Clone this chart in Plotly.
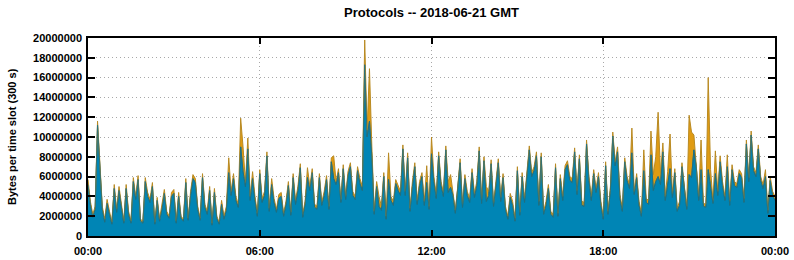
import plotly.graph_objects as go
import pandas as pd

# Stacked traffic per 5-minute slot, in millions of bytes
blue_mb = [
    5.2, 3.2, 1.9, 2.7, 11.2, 7.1, 2.7, 1.4, 3.3, 2.2, 1.2, 4.8, 2.4, 4.6, 2.7, 1.3,
    4.8, 2.2, 1.3, 5.5, 3.7, 5.7, 1.5, 1.3, 5.5, 4.0, 3.4, 5.0, 1.2, 3.6, 1.5, 2.7,
    4.3, 2.2, 1.8, 4.0, 4.3, 1.3, 4.0, 1.8, 1.5, 5.4, 1.6, 4.1, 5.8, 5.4, 2.7, 1.6,
    5.9, 2.9, 2.2, 4.6, 1.1, 4.4, 1.8, 1.2, 3.2, 1.7, 2.6, 6.4, 4.1, 5.8, 3.6, 2.9,
    9.0, 6.5, 5.0, 8.8, 3.6, 5.8, 3.6, 2.0, 6.3, 3.4, 4.1, 8.1, 2.5, 5.2, 3.4, 2.4,
    3.8, 4.0, 2.0, 3.2, 5.1, 2.1, 5.9, 3.2, 4.6, 6.9, 1.9, 3.2, 5.9, 4.6, 6.4, 2.9,
    2.7, 5.9, 3.1, 4.1, 5.7, 2.7, 7.5, 5.8, 5.2, 6.4, 3.4, 6.8, 3.7, 6.1, 7.0, 4.1,
    3.7, 6.6, 5.3, 4.6, 17.3, 10.0, 11.6, 8.0, 2.2, 5.0, 3.0, 2.6, 6.0, 1.7, 5.7, 3.6,
    3.1, 5.3, 4.6, 4.1, 8.8, 4.1, 7.9, 2.5, 5.0, 7.0, 3.2, 5.1, 6.0, 3.1, 5.4, 2.7,
    8.3, 5.5, 3.8, 8.1, 5.1, 4.0, 8.7, 4.4, 4.9, 4.1, 2.3, 4.6, 7.4, 2.9, 5.8, 4.1,
    3.4, 6.4, 3.9, 5.1, 8.6, 3.3, 7.6, 3.5, 4.1, 7.3, 3.0, 5.1, 7.4, 3.5, 5.9, 2.7,
    1.7, 3.9, 3.1, 1.5, 6.6, 2.1, 6.0, 3.4, 6.1, 8.7, 6.0, 6.6, 8.1, 3.1, 8.0, 2.2,
    3.1, 4.8, 2.2, 1.9, 6.9, 2.0, 5.8, 3.6, 6.7, 7.2, 5.6, 5.4, 8.5, 4.2, 7.8, 3.1,
    3.0, 9.3, 5.6, 3.6, 6.3, 4.4, 6.0, 3.1, 1.7, 7.1, 2.2, 4.6, 10.1, 7.1, 8.5, 3.8,
    2.5, 7.5, 5.6, 4.8, 8.4, 4.2, 5.9, 3.1, 2.0, 6.6, 3.4, 3.2, 8.2, 4.6, 5.5, 6.0,
    5.2, 8.5, 3.6, 5.5, 6.8, 3.9, 6.4, 2.5, 3.1, 7.0, 4.6, 2.7, 6.2, 5.9, 8.7, 7.0,
    3.6, 6.7, 3.0, 2.9, 6.7, 4.7, 3.3, 6.3, 4.1, 7.5, 5.1, 3.6, 7.0, 3.1, 6.7, 5.1,
    4.9, 6.3, 5.9, 3.4, 9.3, 5.5, 10.2, 6.6, 6.0, 8.8, 5.6, 4.8, 6.0, 2.3, 5.6, 4.1,
    3.6,
]
total_mb = [
    5.7, 3.5, 2.2, 3.0, 11.6, 7.5, 3.0, 1.7, 3.7, 2.5, 1.4, 5.2, 2.7, 5.0, 3.0, 1.5,
    5.2, 2.5, 1.5, 5.9, 4.0, 6.1, 1.7, 1.5, 5.9, 4.4, 3.7, 5.4, 1.4, 3.9, 1.7, 3.0,
    4.7, 2.5, 2.0, 4.4, 4.7, 1.5, 4.4, 2.0, 1.7, 5.8, 1.8, 4.5, 6.2, 5.8, 3.0, 1.8,
    6.3, 3.2, 2.5, 5.0, 1.3, 4.8, 2.0, 1.4, 3.6, 2.0, 3.0, 7.9, 4.5, 6.3, 4.0, 3.2,
    11.9, 9.0, 5.4, 9.9, 4.0, 6.5, 4.0, 2.3, 6.7, 3.8, 4.5, 8.5, 2.8, 5.8, 3.8, 2.7,
    4.2, 4.4, 2.3, 3.5, 5.5, 2.4, 6.3, 3.6, 5.0, 7.3, 2.2, 3.5, 6.9, 5.0, 6.8, 3.2,
    3.0, 6.3, 3.4, 4.5, 6.1, 3.0, 7.9, 8.1, 5.5, 6.8, 3.7, 7.2, 4.0, 6.5, 7.4, 4.5,
    4.0, 7.0, 5.8, 5.0, 19.8, 10.7, 16.9, 9.0, 2.5, 5.5, 4.0, 3.0, 6.4, 2.0, 8.4, 4.0,
    3.5, 5.7, 5.0, 4.5, 9.2, 4.5, 8.4, 2.8, 5.5, 7.4, 3.6, 5.5, 6.4, 3.5, 7.1, 3.0,
    10.0, 6.0, 4.2, 8.5, 5.5, 4.4, 9.1, 5.5, 6.2, 4.5, 2.6, 5.0, 7.8, 3.2, 6.2, 4.5,
    3.8, 6.8, 4.3, 5.5, 9.0, 3.7, 8.0, 5.0, 4.5, 7.7, 3.3, 5.5, 7.8, 3.9, 6.3, 3.0,
    2.0, 4.3, 3.5, 1.8, 7.0, 2.4, 6.4, 3.8, 6.5, 9.1, 6.4, 7.0, 8.5, 3.5, 8.4, 2.5,
    3.5, 5.2, 2.5, 2.2, 7.3, 2.3, 6.2, 4.0, 7.1, 7.6, 6.0, 5.8, 8.9, 4.6, 8.2, 3.5,
    3.4, 9.7, 6.0, 4.0, 6.7, 4.8, 6.4, 3.5, 2.0, 7.5, 2.5, 5.0, 10.5, 7.5, 9.0, 4.2,
    2.8, 7.9, 6.0, 5.2, 10.9, 4.5, 6.3, 3.5, 2.3, 8.7, 3.8, 3.6, 10.6, 6.2, 8.0, 12.5,
    6.3, 9.4, 4.0, 6.5, 10.3, 4.3, 6.8, 2.8, 3.5, 7.4, 5.0, 3.0, 12.2, 10.5, 10.2, 7.5,
    4.0, 9.7, 3.3, 3.2, 16.0, 6.7, 3.6, 8.6, 4.5, 8.1, 5.5, 4.0, 8.2, 3.5, 7.2, 5.5,
    5.3, 6.7, 6.3, 3.8, 9.7, 5.9, 10.6, 7.0, 6.4, 9.2, 6.0, 5.2, 6.7, 2.6, 6.0, 4.5,
    4.0,
]

title_text = "Protocols -- 2018-06-21 GMT"
y_title = "Bytes per time slot (300 s)"
y_ticks = [0, 2000000, 4000000, 6000000, 8000000, 10000000, 12000000,
           14000000, 16000000, 18000000, 20000000]
x_tick_labels = ["00:00", "06:00", "12:00", "18:00", "00:00"]

n = len(total_mb)
times = pd.date_range("2018-06-21 00:00", periods=n, freq="300s")
blue_bytes = [v * 1e6 for v in blue_mb]
total_bytes = [v * 1e6 for v in total_mb]
x_tick_vals = pd.date_range("2018-06-21 00:00", periods=5, freq="6h")

BLUE = "#0085b5"
BLUE_EDGE = "#1f6f80"
ORANGE = "#e09b12"
ORANGE_EDGE = "#b98a22"
FONT = "Liberation Sans, Arial, sans-serif"

fig = go.Figure()
fig.add_trace(go.Scatter(
    x=times, y=blue_bytes, mode="lines", fill="tozeroy",
    fillcolor=BLUE, line=dict(color=BLUE_EDGE, width=1),
    showlegend=False, hoverinfo="skip"))
fig.add_trace(go.Scatter(
    x=times, y=total_bytes, mode="lines", fill="tonexty",
    fillcolor=ORANGE, line=dict(color=ORANGE_EDGE, width=1),
    showlegend=False, hoverinfo="skip"))
fig.add_trace(go.Scatter(
    x=times, y=blue_bytes, mode="lines",
    line=dict(color=BLUE_EDGE, width=0.8),
    showlegend=False, hoverinfo="skip"))

tick_font = dict(family=FONT, size=11, color="black", weight="bold")
grid_dash = "1px,3px"

fig.update_layout(
    width=794, height=260,
    margin=dict(l=88, r=19, t=38, b=24),
    paper_bgcolor="white", plot_bgcolor="white",
    title=dict(text=title_text, x=(88 + 775) / 2 / 794, xanchor="center",
               y=1 - 12 / 260, yanchor="middle",
               font=dict(family=FONT, size=13, color="black", weight="bold")),
    xaxis=dict(
        range=[times[0], pd.Timestamp("2018-06-22 00:00")],
        tickvals=x_tick_vals, ticktext=x_tick_labels,
        showline=True, linecolor="black", linewidth=1.5, mirror="ticks",
        ticks="inside", ticklen=6, tickcolor="black", tickwidth=1.5,
        showgrid=True, gridcolor="#a8a8a8", griddash=grid_dash, gridwidth=1,
        tickfont=tick_font, zeroline=False, automargin=False,
        ticklabelstandoff=4,
    ),
    yaxis=dict(
        range=[0, 20000000],
        tickvals=y_ticks, tickformat="d",
        showline=True, linecolor="black", linewidth=1.5, mirror="ticks",
        ticks="inside", ticklen=7, tickcolor="black", tickwidth=1.5,
        showgrid=True, gridcolor="#a8a8a8", griddash=grid_dash, gridwidth=1,
        tickfont=tick_font, zeroline=False, automargin=False,
        ticklabelstandoff=2,
    ),
    annotations=[dict(
        text=y_title, textangle=-90, xref="paper", yref="paper",
        x=-76 / 687, y=0.5, xanchor="center", yanchor="middle",
        showarrow=False,
        font=dict(family=FONT, size=11, color="black", weight="bold"),
    )],
)

fig.write_html("out.html")
